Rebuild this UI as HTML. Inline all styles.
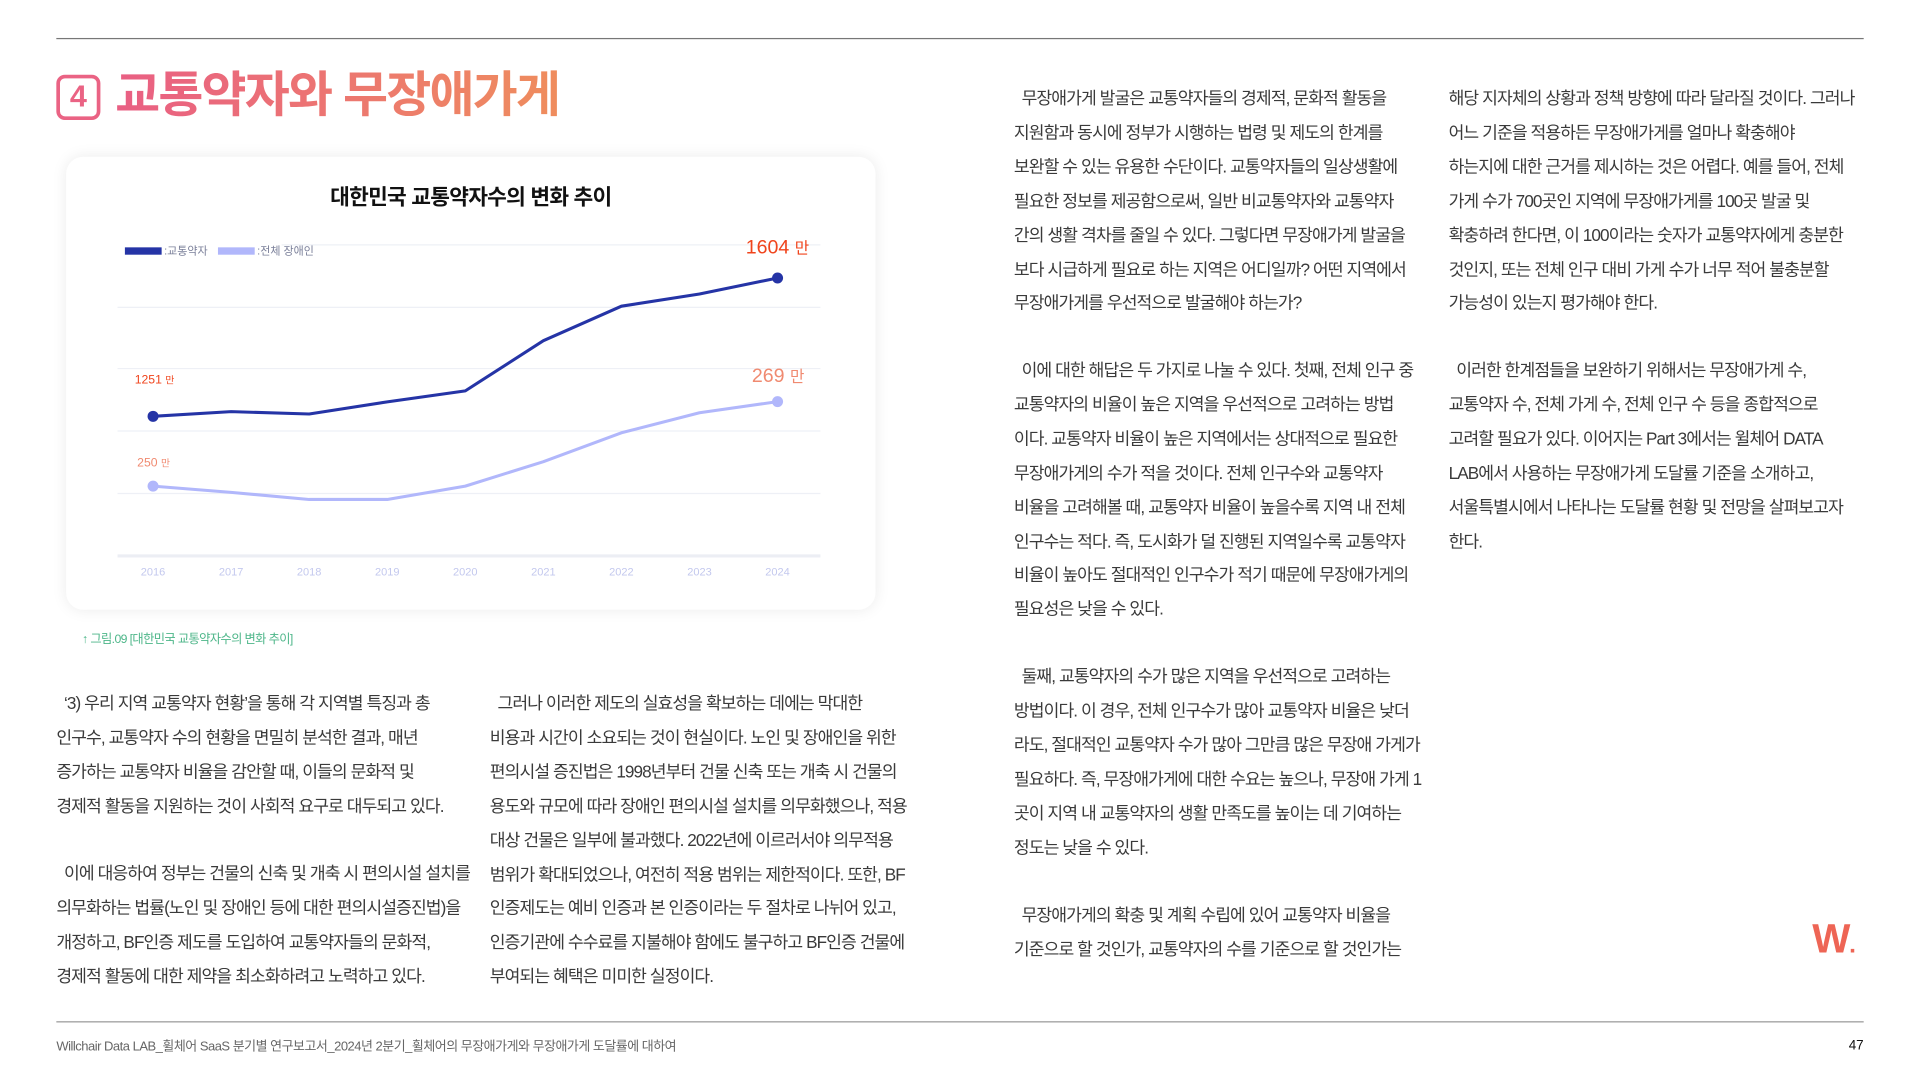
<!DOCTYPE html>
<html lang="ko">
<head>
<meta charset="utf-8">
<style>
html,body{margin:0;padding:0;background:#fff;}
body{width:1920px;height:1081px;overflow:hidden;}
#wrap{position:absolute;left:0;top:0;width:1568px;height:883px;transform:scale(1.2245);transform-origin:0 0;font-family:"Liberation Sans","Noto Sans CJK KR",sans-serif;color:#333;}
.abs{position:absolute;}
.txt{position:absolute;font-size:14px;line-height:27.9px;letter-spacing:-0.75px;white-space:nowrap;color:#3a3a3a;}
.rule{position:absolute;left:46px;width:1476px;height:1px;background:#777;}
</style>
</head>
<body>
<div id="wrap">
  <div class="rule" style="top:31px"></div>

  <div class="abs" style="left:46px;top:61px;width:30px;height:31px;border:3px solid #ea6384;border-radius:7px;color:#ea6384;font-weight:bold;font-size:25px;line-height:31px;text-align:center;">4</div>
  <div class="abs" style="left:94px;top:53px;font-size:40px;font-weight:bold;letter-spacing:-1.5px;line-height:50px;background:linear-gradient(90deg,#e95f84,#ef8d5d);-webkit-background-clip:text;background-clip:text;color:transparent;">교통약자와 무장애가게</div>

  <div class="abs" style="left:54px;top:128px;width:661px;height:370px;background:#fff;border-radius:14px;box-shadow:0 0 12px rgba(0,0,0,0.08);"></div>
  <div class="abs" style="left:54px;width:661px;top:148px;text-align:center;font-size:17.5px;font-weight:bold;color:#111;letter-spacing:-0.6px;">대한민국 교통약자수의 변화 추이</div>

  <svg class="abs" style="left:0;top:0" width="1568" height="883" id="chart">
    <g id="grid"></g>
    <g id="lines"></g>
    <g id="labels"></g>
  </svg>

  <div class="abs" style="left:67px;top:513px;font-size:10px;color:#4db689;letter-spacing:-0.5px;">↑ 그림.09 [대한민국 교통약자수의 변화 추이]</div>

  <div class="txt" style="left:46px;top:561px;">&nbsp;&nbsp;‘3) 우리 지역 교통약자 현황’을 통해 각 지역별 특징과 총<br>인구수, 교통약자 수의 현황을 면밀히 분석한 결과, 매년<br>증가하는 교통약자 비율을 감안할 때, 이들의 문화적 및<br>경제적 활동을 지원하는 것이 사회적 요구로 대두되고 있다.</div>
  <div class="txt" style="left:46px;top:700px;">&nbsp;&nbsp;이에 대응하여 정부는 건물의 신축 및 개축 시 편의시설 설치를<br>의무화하는 법률(노인 및 장애인 등에 대한 편의시설증진법)을<br>개정하고, BF인증 제도를 도입하여 교통약자들의 문화적,<br>경제적 활동에 대한 제약을 최소화하려고 노력하고 있다.</div>
  <div class="txt" style="left:400px;top:561px;">&nbsp;&nbsp;그러나 이러한 제도의 실효성을 확보하는 데에는 막대한<br>비용과 시간이 소요되는 것이 현실이다. 노인 및 장애인을 위한<br>편의시설 증진법은 1998년부터 건물 신축 또는 개축 시 건물의<br>용도와 규모에 따라 장애인 편의시설 설치를 의무화했으나, 적용<br>대상 건물은 일부에 불과했다. 2022년에 이르러서야 의무적용<br>범위가 확대되었으나, 여전히 적용 범위는 제한적이다. 또한, BF<br>인증제도는 예비 인증과 본 인증이라는 두 절차로 나뉘어 있고,<br>인증기관에 수수료를 지불해야 함에도 불구하고 BF인증 건물에<br>부여되는 혜택은 미미한 실정이다.</div>

  <div class="txt" style="left:828px;top:67px;">&nbsp;&nbsp;무장애가게 발굴은 교통약자들의 경제적, 문화적 활동을<br>지원함과 동시에 정부가 시행하는 법령 및 제도의 한계를<br>보완할 수 있는 유용한 수단이다. 교통약자들의 일상생활에<br>필요한 정보를 제공함으로써, 일반 비교통약자와 교통약자<br>간의 생활 격차를 줄일 수 있다. 그렇다면 무장애가게 발굴을<br>보다 시급하게 필요로 하는 지역은 어디일까? 어떤 지역에서<br>무장애가게를 우선적으로 발굴해야 하는가?</div>
  <div class="txt" style="left:828px;top:289px;">&nbsp;&nbsp;이에 대한 해답은 두 가지로 나눌 수 있다. 첫째, 전체 인구 중<br>교통약자의 비율이 높은 지역을 우선적으로 고려하는 방법<br>이다. 교통약자 비율이 높은 지역에서는 상대적으로 필요한<br>무장애가게의 수가 적을 것이다. 전체 인구수와 교통약자<br>비율을 고려해볼 때, 교통약자 비율이 높을수록 지역 내 전체<br>인구수는 적다. 즉, 도시화가 덜 진행된 지역일수록 교통약자<br>비율이 높아도 절대적인 인구수가 적기 때문에 무장애가게의<br>필요성은 낮을 수 있다.</div>
  <div class="txt" style="left:828px;top:539px;">&nbsp;&nbsp;둘째, 교통약자의 수가 많은 지역을 우선적으로 고려하는<br>방법이다. 이 경우, 전체 인구수가 많아 교통약자 비율은 낮더<br>라도, 절대적인 교통약자 수가 많아 그만큼 많은 무장애 가게가<br>필요하다. 즉, 무장애가게에 대한 수요는 높으나, 무장애 가게 1<br>곳이 지역 내 교통약자의 생활 만족도를 높이는 데 기여하는<br>정도는 낮을 수 있다.</div>
  <div class="txt" style="left:828px;top:734px;">&nbsp;&nbsp;무장애가게의 확충 및 계획 수립에 있어 교통약자 비율을<br>기준으로 할 것인가, 교통약자의 수를 기준으로 할 것인가는</div>
  <div class="txt" style="left:1183px;top:67px;">해당 지자체의 상황과 정책 방향에 따라 달라질 것이다. 그러나<br>어느 기준을 적용하든 무장애가게를 얼마나 확충해야<br>하는지에 대한 근거를 제시하는 것은 어렵다. 예를 들어, 전체<br>가게 수가 700곳인 지역에 무장애가게를 100곳 발굴 및<br>확충하려 한다면, 이 100이라는 숫자가 교통약자에게 충분한<br>것인지, 또는 전체 인구 대비 가게 수가 너무 적어 불충분할<br>가능성이 있는지 평가해야 한다.</div>
  <div class="txt" style="left:1183px;top:289px;">&nbsp;&nbsp;이러한 한계점들을 보완하기 위해서는 무장애가게 수,<br>교통약자 수, 전체 가게 수, 전체 인구 수 등을 종합적으로<br>고려할 필요가 있다. 이어지는 Part 3에서는 윌체어 DATA<br>LAB에서 사용하는 무장애가게 도달률 기준을 소개하고,<br>서울특별시에서 나타나는 도달률 현황 및 전망을 살펴보고자<br>한다.</div>

  <div class="abs" style="left:1480px;top:748px;font-size:33px;font-weight:bold;color:#ee6555;letter-spacing:-1px;">W<span style="font-size:20px">.</span></div>

  <div class="rule" style="top:834px;background:#999"></div>
  <div class="abs" style="left:46px;top:847px;font-size:10.6px;color:#666;letter-spacing:-0.4px;white-space:nowrap;">Willchair Data LAB_휠체어 SaaS 분기별 연구보고서_2024년 2분기_휠체어의 무장애가게와 무장애가게 도달률에 대하여</div>
  <div class="abs" style="left:1500px;top:848px;width:22px;text-align:right;font-size:11px;color:#111;">47</div>
</div>

<script>
const years = ['2016','2017','2018','2019','2020','2021','2022','2023','2024'];
const mobilityImpaired = [1251,1263,1257,1288,1316,1444,1532,1563,1604];
const disabledTotal = [250,248.6,247,247,250,255.5,262,266.5,269];
const legendLabels = [':교통약자', ':전체 장애인'];

const NS = 'http://www.w3.org/2000/svg';
function mk(tag, attrs, parent){const e=document.createElementNS(NS,tag);for(const k in attrs)e.setAttribute(k,attrs[k]);parent.appendChild(e);return e;}
const x0=125, xStep=63.75;
function xScale(i){return x0+i*xStep;}
function yBlue(v){return 340-(v-1251)/3.124;}
function yLight(v){return 397-(v-250)/0.2754;}

const grid=document.getElementById('grid');
[200,251,301,352,403].forEach(function(gy,i){
  const l=mk('line',{x1:i===0?230:96,x2:670,y1:gy,y2:gy,stroke:'#eef0f6','stroke-width':1},grid);
  
  
});
const base=mk('line',{x1:96,x2:670,y1:454,y2:454,stroke:'#eceef4','stroke-width':2.5},grid);



const labels=document.getElementById('labels');
years.forEach(function(y,i){
  const t=mk('text',{x:xScale(i),y:470,'text-anchor':'middle','font-size':9,fill:'#c3c8ee','font-family':'Liberation Sans, sans-serif'},labels);
  t.textContent=y;
  
  
});

const lines=document.getElementById('lines');
function drawSeries(vals, ys, color, w, name){
  const pts=vals.map(function(v,i){return xScale(i)+','+ys(v);}).join(' ');
  const p=mk('polyline',{points:pts,fill:'none',stroke:color,'stroke-width':w,'stroke-linejoin':'round'},lines);
  
  
  [0,vals.length-1].forEach(function(i){
    const c=mk('circle',{cx:xScale(i),cy:ys(vals[i]),r:4.5,fill:color},lines);
    
    
  });
}
drawSeries(disabledTotal,yLight,'#b1b7fb',2.5,'disabled-total');
drawSeries(mobilityImpaired,yBlue,'#2534a6',2.5,'mobility-impaired');

function valLabel(x,y,val,size,color,name){
  const t=mk('text',{x:x,y:y,'font-size':size,fill:color,'font-family':'Liberation Sans, Noto Sans CJK KR, sans-serif'},labels);
  t.textContent=val+' ';
  const s=mk('tspan',{'font-size':size*0.8},t);
  s.textContent='만';
  
  
}
const nL=mobilityImpaired.length-1;
valLabel(110,yBlue(mobilityImpaired[0])-27,mobilityImpaired[0],10,'#f0441c','start-value-label-mobility');
valLabel(609,yBlue(mobilityImpaired[nL])-20,mobilityImpaired[nL],16,'#f0441c','end-value-label-mobility');
valLabel(112,yLight(disabledTotal[0])-16,disabledTotal[0],10,'#f08a70','start-value-label-disabled');
valLabel(614,yLight(disabledTotal[nL])-16,disabledTotal[nL],16,'#f08a70','end-value-label-disabled');

const lg1=mk('rect',{x:102,y:202,width:30,height:6,fill:'#2534a6'},labels);


const lt1=mk('text',{x:134,y:208,'font-size':9,fill:'#7a7f99','font-family':'Liberation Sans, Noto Sans CJK KR, sans-serif'},labels);
lt1.textContent=legendLabels[0];


const lg2=mk('rect',{x:178,y:202,width:30,height:6,fill:'#b1b7fb'},labels);


const lt2=mk('text',{x:210,y:208,'font-size':9,fill:'#7a7f99','font-family':'Liberation Sans, Noto Sans CJK KR, sans-serif'},labels);
lt2.textContent=legendLabels[1];


</script>
</body>
</html>
